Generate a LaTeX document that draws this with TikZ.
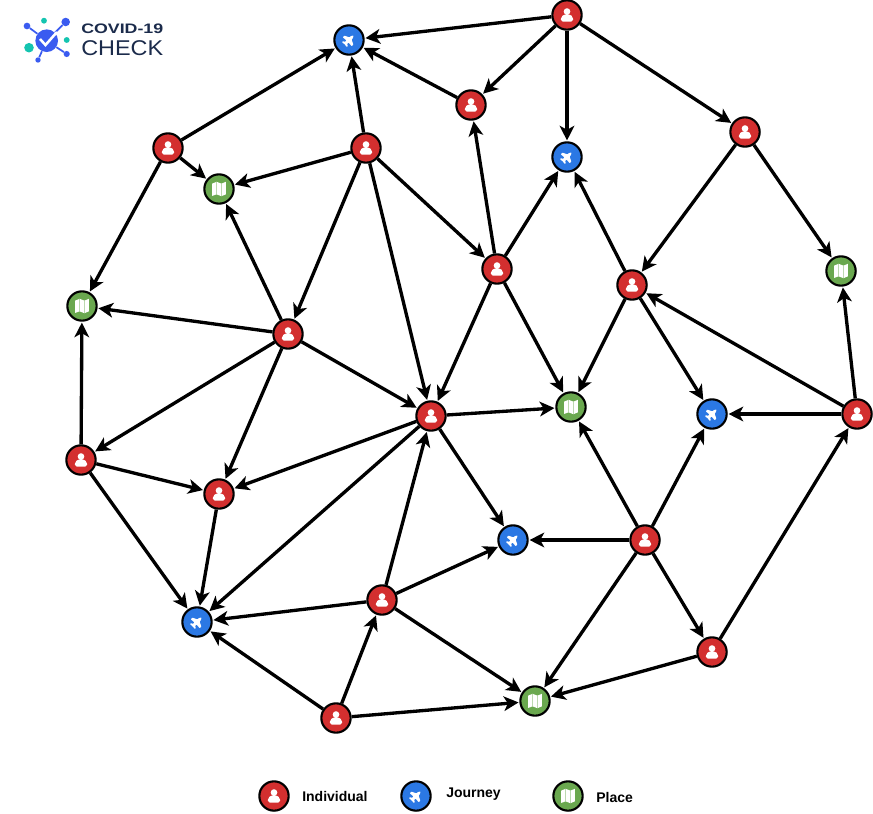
\documentclass[tikz,border=0pt]{standalone}
\usepackage{fontspec}
\usepackage{graphicx}
\setmainfont{Liberation Sans}
\usetikzlibrary{arrows.meta}
\definecolor{indred}{HTML}{D32F2F}
\definecolor{jourblue}{HTML}{2B78E4}
\definecolor{placegreen}{HTML}{6AA84F}
\definecolor{logoblue}{HTML}{3A5BF0}
\definecolor{logoteal}{HTML}{14C4B0}
\definecolor{logonavy}{HTML}{1B2B4B}
\tikzset{
  basenode/.style={circle,draw=black,line width=1.6pt,minimum size=22pt,inner sep=0pt},
  individual/.style={basenode,fill=indred,path picture={
    \fill[white,shift={(path picture bounding box.center)}] (0pt,2.6pt) circle (2.5pt);
    \fill[white,shift={(path picture bounding box.center)},rounded corners=1.4pt]
      (-4.6pt,-5pt) -- (-4.6pt,-1.6pt) -- (-2pt,0.6pt) -- (2pt,0.6pt) -- (4.6pt,-1.6pt) -- (4.6pt,-5pt) -- cycle;}},
  journey/.style={basenode,fill=jourblue,path picture={
    \fill[white,shift={(path picture bounding box.center)},rounded corners=0.4pt]
      (3.37pt,3.37pt) -- (1.39pt,2.94pt) -- (0.42pt,1.98pt) -- (-3.49pt,3.25pt) -- (-4.69pt,2.04pt)
      -- (-1.86pt,-0.3pt) -- (-2.94pt,-1.39pt) -- (-4.69pt,-0.84pt) -- (-5.2pt,-1.7pt) -- (-3.25pt,-3.25pt)
      -- (-1.7pt,-5.2pt) -- (-0.84pt,-4.69pt) -- (-1.39pt,-2.94pt) -- (-0.3pt,-1.86pt) -- (2.04pt,-4.69pt)
      -- (3.25pt,-3.49pt) -- (1.98pt,0.42pt) -- (2.94pt,1.39pt) -- cycle;}},
  place/.style={basenode,fill=placegreen,path picture={
    \fill[white,shift={(path picture bounding box.center)}]
      (-5.2pt,-5.2pt) -- (-5.2pt,4pt) -- (-1.8pt,5.4pt) -- (1.8pt,4pt) -- (5.2pt,5.4pt)
      -- (5.2pt,-4pt) -- (1.8pt,-5.4pt) -- (-1.8pt,-4pt) -- cycle;
    \draw[placegreen!45,line width=0.3pt,shift={(path picture bounding box.center)}]
      (-1.8pt,5.4pt) -- (-1.8pt,-4pt) (1.8pt,4pt) -- (1.8pt,-5.4pt);}},
  link/.style={-{Stealth[length=11pt,width=11pt,inset=3pt]},line width=2.5pt,shorten >=0.6pt},
  legendtext/.style={font=\fontsize{10.5}{12}\selectfont\bfseries,anchor=west,inner sep=0pt},
  logoline/.style={logoblue,line width=1.3pt},
  logobluedot/.style={circle,fill=logoblue,inner sep=0pt},
  logotealdot/.style={circle,fill=logoteal,inner sep=0pt}
}
\begin{document}
\begin{tikzpicture}[x=0.75pt,y=-0.75pt]
  \useasboundingbox (0,0) rectangle (873,813);
  \node[logobluedot,minimum size=17pt] (hub) at (46.7,40.7) {};
  \node[logobluedot,minimum size=5pt] (dota) at (27,26) {};
  \node[logobluedot,minimum size=6.4pt] (dotb) at (65.7,22) {};
  \node[logobluedot,minimum size=4pt] (dotc) at (38,60) {};
  \node[logobluedot,minimum size=4.6pt] (dotd) at (66.7,54) {};
  \node[logotealdot,minimum size=4.4pt] (tealx) at (44,20.7) {};
  \node[logotealdot,minimum size=4.4pt] (tealy) at (66.7,40) {};
  \node[logotealdot,minimum size=7.2pt] (tealz) at (29,47.7) {};
  \draw[logoline] (hub) -- (dota);
  \draw[logoline] (hub) -- (dotb);
  \draw[logoline] (hub) -- (dotc);
  \draw[logoline] (hub) -- (dotd);
  \draw[white,line width=1.9pt] (40,39) -- (45.5,45) -- (57,32);
  \node[anchor=south west,inner sep=0pt,text=logonavy] (logotop) at (81,34) {\resizebox{61.5pt}{7.2pt}{\bfseries COVID-19}};
  \node[anchor=south west,inner sep=0pt,text=logonavy] (logobottom) at (81,56) {\resizebox{61.5pt}{11.2pt}{CHECK}};

  \node[individual] (i1) at (567,15) {};
  \node[journey] (j1) at (349,40) {};
  \node[individual] (i2) at (471,105) {};
  \node[individual] (i3) at (745,132) {};
  \node[individual] (i4) at (168,148) {};
  \node[individual] (i5) at (366,148) {};
  \node[journey] (j2) at (567,157) {};
  \node[place] (p1) at (219,189) {};
  \node[individual] (i6) at (497,269) {};
  \node[place] (p2) at (841,271) {};
  \node[individual] (i7) at (632,285) {};
  \node[place] (p3) at (82,306) {};
  \node[individual] (i8) at (288,334) {};
  \node[place] (p4) at (571,407) {};
  \node[journey] (j3) at (712,414) {};
  \node[individual] (i9) at (857,414) {};
  \node[individual] (i10) at (431,416) {};
  \node[individual] (i11) at (81,460) {};
  \node[individual] (i12) at (219,494) {};
  \node[individual] (i13) at (645,540) {};
  \node[journey] (j4) at (513,540) {};
  \node[individual] (i14) at (382,600) {};
  \node[journey] (j5) at (197,622) {};
  \node[individual] (i15) at (712,652) {};
  \node[place] (p5) at (535,701) {};
  \node[individual] (i16) at (336,718) {};

  \draw[link] (i1) -- (j1);
  \draw[link] (i1) -- (i2);
  \draw[link] (i1) -- (j2);
  \draw[link] (i1) -- (i3);
  \draw[link] (i2) -- (j1);
  \draw[link] (i5) -- (j1);
  \draw[link] (i4) -- (j1);
  \draw[link] (i4) -- (p1);
  \draw[link] (i5) -- (p1);
  \draw[link] (i4) -- (p3);
  \draw[link] (i5) -- (i6);
  \draw[link] (i5) -- (i8);
  \draw[link] (i5) -- (i10);
  \draw[link] (i6) -- (i2);
  \draw[link] (i6) -- (j2);
  \draw[link] (i6) -- (i10);
  \draw[link] (i6) -- (p4);
  \draw[link] (i3) -- (i7);
  \draw[link] (i3) -- (p2);
  \draw[link] (i7) -- (j2);
  \draw[link] (i7) -- (p4);
  \draw[link] (i7) -- (j3);
  \draw[link] (i8) -- (p1);
  \draw[link] (i8) -- (p3);
  \draw[link] (i8) -- (i10);
  \draw[link] (i8) -- (i11);
  \draw[link] (i8) -- (i12);
  \draw[link] (i9) -- (p2);
  \draw[link] (i9) -- (i7);
  \draw[link] (i9) -- (j3);
  \draw[link] (i10) -- (p4);
  \draw[link] (i10) -- (j4);
  \draw[link] (i10) -- (i12);
  \draw[link] (i10) -- (j5);
  \draw[link] (i11) -- (p3);
  \draw[link] (i11) -- (i12);
  \draw[link] (i11) -- (j5);
  \draw[link] (i12) -- (j5);
  \draw[link] (i13) -- (p4);
  \draw[link] (i13) -- (j3);
  \draw[link] (i13) -- (j4);
  \draw[link] (i13) -- (p5);
  \draw[link] (i13) -- (i15);
  \draw[link] (i14) -- (i10);
  \draw[link] (i14) -- (j4);
  \draw[link] (i14) -- (j5);
  \draw[link] (i14) -- (p5);
  \draw[link] (i15) -- (i9);
  \draw[link] (i15) -- (p5);
  \draw[link] (i16) -- (j5);
  \draw[link] (i16) -- (i14);
  \draw[link] (i16) -- (p5);

  \node[individual] (keyindividual) at (274,796) {};
  \node[legendtext] (keyindividualtext) at (302,796) {Individual};
  \node[journey] (keyjourney) at (416,796) {};
  \node[legendtext] (keyjourneytext) at (446,794) {Journey};
  \node[place] (keyplace) at (568,796) {};
  \node[legendtext] (keyplacetext) at (596,797) {Place};
\end{tikzpicture}
\end{document}
